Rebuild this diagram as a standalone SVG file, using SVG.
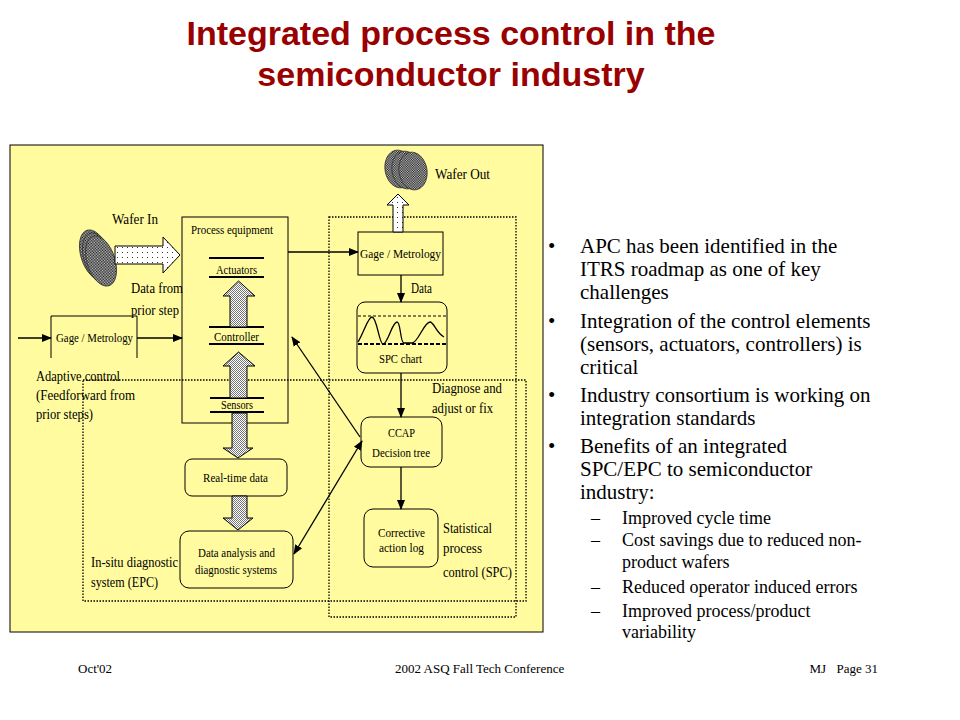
<svg xmlns="http://www.w3.org/2000/svg" width="960" height="720" viewBox="0 0 960 720">
<defs>
  <pattern id="sparse" width="5" height="5" patternUnits="userSpaceOnUse">
    <rect width="5" height="5" fill="#ffffff"/>
    <rect x="2" y="2" width="1" height="1" fill="#333333"/>
  </pattern>
  <pattern id="dense" width="2" height="2" patternUnits="userSpaceOnUse">
    <rect width="2" height="2" fill="#ffffff"/>
    <rect x="0" y="0" width="1" height="1" fill="#777777"/>
    <rect x="1" y="1" width="1" height="1" fill="#777777"/>
  </pattern>
  <pattern id="wafer" width="2" height="2" patternUnits="userSpaceOnUse">
    <rect width="2" height="2" fill="#cfcfcf"/>
    <rect x="0" y="0" width="1" height="1" fill="#111111"/>
    <rect x="1" y="1" width="1" height="1" fill="#111111"/>
  </pattern>
  <marker id="ah" markerWidth="10" markerHeight="10" refX="9" refY="5" orient="auto" markerUnits="userSpaceOnUse">
    <path d="M0,1 L10,5 L0,9 Z" fill="#000"/>
  </marker>
  <marker id="ahs" markerWidth="10" markerHeight="10" refX="1" refY="5" orient="auto" markerUnits="userSpaceOnUse">
    <path d="M10,1 L0,5 L10,9 Z" fill="#000"/>
  </marker>
</defs>
<style>
  .title { font-family: "Liberation Sans", Arial, sans-serif; font-weight: bold; font-size: 34px; fill: #990000; }
  .lbl { font-family: "Liberation Serif", "Times New Roman", serif; font-size: 13px; fill: #000; }
  .big { font-family: "Liberation Serif", "Times New Roman", serif; font-size: 15px; fill: #000; }
  .bul { font-family: "Liberation Serif", "Times New Roman", serif; font-size: 21px; fill: #000; }
  .sub { font-family: "Liberation Serif", "Times New Roman", serif; font-size: 18px; fill: #000; }
  .foot { font-family: "Liberation Serif", "Times New Roman", serif; font-size: 13px; fill: #000; }
  .box { fill: none; stroke: #000; stroke-width: 1; }
  .rbox { fill: none; stroke: #000; stroke-width: 1; }
  .dot { fill: none; stroke: #000; stroke-width: 1.3; stroke-dasharray: 1.5 1.5; }
  .conn { fill: none; stroke: #000; stroke-width: 1.3; }
  .blk { stroke: #000; stroke-width: 1; }
  .bar { stroke: #000; stroke-width: 2; }
</style>

<!-- title -->
<text class="title" x="451" y="45" text-anchor="middle">Integrated process control in the</text>
<text class="title" x="451" y="86" text-anchor="middle">semiconductor industry</text>

<!-- yellow panel -->
<rect x="10" y="145" width="533" height="487" fill="#FFFB9E" stroke="#000" stroke-width="1"/>

<!-- dotted system boundaries -->
<g id="epc-boundary">
  <rect class="dot" x="83" y="380" width="443" height="221"/>
</g>
<g id="spc-boundary">
  <rect class="dot" x="329" y="217" width="187" height="400"/>
</g>

<!-- Wafer In -->
<g id="wafer-in">
  <ellipse cx="95" cy="255" rx="14" ry="26" transform="rotate(-18 95 255)" fill="url(#wafer)" stroke="#333" stroke-width="0.8"/>
  <ellipse cx="98" cy="258" rx="14" ry="26" transform="rotate(-18 98 258)" fill="url(#wafer)" stroke="#333" stroke-width="0.8"/>
  <ellipse cx="101" cy="261" rx="14" ry="26" transform="rotate(-18 101 261)" fill="url(#wafer)" stroke="#333" stroke-width="0.8"/>
  <polygon class="blk" points="115,246 163,246 163,237 180,255 163,273 163,264 115,264" fill="url(#sparse)"/>
  <text class="big" x="112" y="224" textLength="46" lengthAdjust="spacingAndGlyphs">Wafer In</text>
</g>

<g id="data-from-label">
  <text class="big" x="131" y="293" textLength="52" lengthAdjust="spacingAndGlyphs">Data from</text>
  <text class="big" x="131" y="315" textLength="48" lengthAdjust="spacingAndGlyphs">prior step</text>
</g>

<!-- Process equipment -->
<g id="process-equipment">
  <rect class="box" x="182" y="217" width="106" height="206"/>
  <text class="lbl" x="191" y="234" textLength="82" lengthAdjust="spacingAndGlyphs">Process equipment</text>
</g>
<g id="actuators">
  <line class="bar" x1="209" y1="258" x2="264" y2="258"/>
  <line class="bar" x1="209" y1="277" x2="264" y2="277"/>
  <text class="lbl" x="216" y="274" textLength="41" lengthAdjust="spacingAndGlyphs">Actuators</text>
</g>
<g id="controller">
  <line class="bar" x1="209" y1="327" x2="264" y2="327"/>
  <line class="bar" x1="209" y1="344" x2="264" y2="344"/>
  <text class="lbl" x="214" y="341" textLength="45" lengthAdjust="spacingAndGlyphs">Controller</text>
</g>
<g id="sensors">
  <line class="bar" x1="210" y1="398" x2="264" y2="398"/>
  <line class="bar" x1="210" y1="412" x2="264" y2="412"/>
  <text class="lbl" x="221" y="409" textLength="32" lengthAdjust="spacingAndGlyphs">Sensors</text>
</g>

<!-- Left Gage / Metrology -->
<g id="gage-left">
  <path class="box" d="M51,358 V316 H137 V358"/>
  <text class="lbl" x="56" y="342" textLength="77" lengthAdjust="spacingAndGlyphs">Gage / Metrology</text>
</g>

<g id="adaptive-label">
  <text class="big" x="36" y="381" textLength="84" lengthAdjust="spacingAndGlyphs">Adaptive control</text>
  <text class="big" x="36" y="400" textLength="99" lengthAdjust="spacingAndGlyphs">(Feedforward from</text>
  <text class="big" x="36" y="419" textLength="57" lengthAdjust="spacingAndGlyphs">prior steps)</text>
</g>

<!-- Real-time data -->
<g id="real-time-data">
  <rect class="rbox" x="185" y="459" width="102" height="37" rx="7"/>
  <text class="lbl" x="203" y="482" textLength="65" lengthAdjust="spacingAndGlyphs">Real-time data</text>
</g>

<!-- Data analysis -->
<g id="data-analysis">
  <rect class="rbox" x="180" y="531" width="113" height="57" rx="9"/>
  <text class="lbl" x="198" y="557" textLength="77" lengthAdjust="spacingAndGlyphs">Data analysis and</text>
  <text class="lbl" x="195" y="574" textLength="82" lengthAdjust="spacingAndGlyphs">diagnostic systems</text>
</g>

<g id="epc-label">
  <text class="big" x="91" y="567" textLength="87" lengthAdjust="spacingAndGlyphs">In-situ diagnostic</text>
  <text class="big" x="91" y="587" textLength="67" lengthAdjust="spacingAndGlyphs">system (EPC)</text>
</g>

<!-- Wafer Out -->
<g id="wafer-out">
  <ellipse cx="399" cy="169" rx="14" ry="19" transform="rotate(-10 399 169)" fill="url(#wafer)" stroke="#333" stroke-width="0.8"/>
  <ellipse cx="406" cy="170" rx="14" ry="19" transform="rotate(-10 406 170)" fill="url(#wafer)" stroke="#333" stroke-width="0.8"/>
  <ellipse cx="413" cy="171" rx="14" ry="19" transform="rotate(-10 413 171)" fill="url(#wafer)" stroke="#333" stroke-width="0.8"/>
  <text class="big" x="435" y="179" textLength="55" lengthAdjust="spacingAndGlyphs">Wafer Out</text>
</g>

<!-- Right Gage / Metrology -->
<g id="gage-right">
  <rect class="box" x="358" y="232" width="85" height="43" fill="#FFFB9E"/>
  <text class="lbl" x="360" y="258" textLength="81" lengthAdjust="spacingAndGlyphs">Gage / Metrology</text>
</g>

<!-- SPC chart -->
<g id="spc-chart">
  <rect class="rbox" x="357" y="302" width="90" height="71" rx="8" fill="#FFFB9E"/>
  <line x1="358" y1="316" x2="446" y2="316" stroke="#000" stroke-width="1" stroke-dasharray="3 2"/>
  <line x1="358" y1="344" x2="446" y2="344" stroke="#000" stroke-width="2" stroke-dasharray="4 2"/>
  <path fill="none" stroke="#000" stroke-width="1.3" d="M358,342 C364,332 368,317 372,317 C377,317 379,344 383,344 C388,344 392,322 397,322 C401,322 400,343 404,343 L412,343 C418,343 424,322 430,322 C434,322 436,333 444,337"/>
  <text class="lbl" x="379" y="363" textLength="43" lengthAdjust="spacingAndGlyphs">SPC chart</text>
</g>

<g id="diagnose-label">
  <text class="big" x="432" y="393" textLength="70" lengthAdjust="spacingAndGlyphs">Diagnose and</text>
  <text class="big" x="432" y="413" textLength="61" lengthAdjust="spacingAndGlyphs">adjust or fix</text>
</g>

<!-- CCAP -->
<g id="ccap">
  <rect class="rbox" x="361" y="417" width="81" height="50" rx="9" fill="#FFFB9E"/>
  <text class="lbl" x="388" y="437" textLength="27" lengthAdjust="spacingAndGlyphs">CCAP</text>
  <text class="lbl" x="372" y="457" textLength="58" lengthAdjust="spacingAndGlyphs">Decision tree</text>
</g>

<!-- Corrective action log -->
<g id="corrective">
  <rect class="rbox" x="364" y="509" width="74" height="58" rx="9" fill="#FFFB9E"/>
  <text class="lbl" x="378" y="537" textLength="47" lengthAdjust="spacingAndGlyphs">Corrective</text>
  <text class="lbl" x="379" y="552" textLength="45" lengthAdjust="spacingAndGlyphs">action log</text>
</g>

<g id="spc-label">
  <text class="big" x="443" y="533" textLength="49" lengthAdjust="spacingAndGlyphs">Statistical</text>
  <text class="big" x="443" y="553" textLength="39" lengthAdjust="spacingAndGlyphs">process</text>
  <text class="big" x="443" y="577" textLength="69" lengthAdjust="spacingAndGlyphs">control (SPC)</text>
</g>

<!-- connectors -->
<g id="connectors">
  <!-- block arrows -->
  <polygon class="blk" points="230,327 230,296 223,296 238.5,281 255,296 247,296 247,327" fill="url(#dense)"/>
  <polygon class="blk" points="230,398 230,366 223,366 238.5,352 255,366 247,366 247,398" fill="url(#dense)"/>
  <polygon class="blk" points="232,413 232,448 223,448 238,458 253,448 247,448 247,413" fill="url(#dense)"/>
  <polygon class="blk" points="232,496 232,518 223,518 238,530 253,518 247,518 247,496" fill="url(#dense)"/>
  <polygon class="blk" points="393,232 393,205 387,205 398,194 409,205 403,205 403,232" fill="url(#sparse)"/>
  <!-- line arrows -->
  <line class="conn" x1="18" y1="338" x2="51" y2="338" marker-end="url(#ah)"/>
  <line class="conn" x1="137" y1="338" x2="182" y2="338" marker-end="url(#ah)"/>
  <line class="conn" x1="288" y1="252" x2="358" y2="252" marker-end="url(#ah)"/>
  <line class="conn" x1="401" y1="275" x2="401" y2="302" marker-end="url(#ah)"/>
  <line class="conn" x1="401" y1="373" x2="401" y2="417" marker-end="url(#ah)"/>
  <line class="conn" x1="401" y1="467" x2="401" y2="509" marker-end="url(#ah)"/>
  <line class="conn" x1="360" y1="437" x2="292" y2="337" marker-end="url(#ah)"/>
  <line class="conn" x1="294" y1="554" x2="362" y2="441" marker-start="url(#ahs)" marker-end="url(#ah)"/>
  <text class="big" x="411" y="293" textLength="21" lengthAdjust="spacingAndGlyphs">Data</text>
</g>

<!-- bullets -->
<g id="bullets">
  <text class="bul" x="548" y="253">•</text>
  <text class="bul" x="580" y="253">APC has been identified in the</text>
  <text class="bul" x="580" y="276">ITRS roadmap as one of key</text>
  <text class="bul" x="580" y="299">challenges</text>
  <text class="bul" x="548" y="328">•</text>
  <text class="bul" x="580" y="328">Integration of the control elements</text>
  <text class="bul" x="580" y="351">(sensors, actuators, controllers) is</text>
  <text class="bul" x="580" y="374">critical</text>
  <text class="bul" x="548" y="402">•</text>
  <text class="bul" x="580" y="402">Industry consortium is working on</text>
  <text class="bul" x="580" y="425">integration standards</text>
  <text class="bul" x="548" y="453">•</text>
  <text class="bul" x="580" y="453">Benefits of an integrated</text>
  <text class="bul" x="580" y="476">SPC/EPC to semiconductor</text>
  <text class="bul" x="580" y="499">industry:</text>
  <text class="sub" x="591" y="524">–</text>
  <text class="sub" x="622" y="524">Improved cycle time</text>
  <text class="sub" x="591" y="546">–</text>
  <text class="sub" x="622" y="546">Cost savings due to reduced non-</text>
  <text class="sub" x="622" y="568">product wafers</text>
  <text class="sub" x="591" y="593">–</text>
  <text class="sub" x="622" y="593">Reduced operator induced errors</text>
  <text class="sub" x="591" y="617">–</text>
  <text class="sub" x="622" y="617">Improved process/product</text>
  <text class="sub" x="622" y="638">variability</text>
</g>

<!-- footer -->
<g id="footer">
  <text class="foot" x="78" y="673">Oct'02</text>
  <text class="foot" x="395" y="673">2002 ASQ Fall Tech Conference</text>
  <text class="foot" x="826" y="673" text-anchor="end">MJ</text>
  <text class="foot" x="878" y="673" text-anchor="end">Page 31</text>
</g>
</svg>
